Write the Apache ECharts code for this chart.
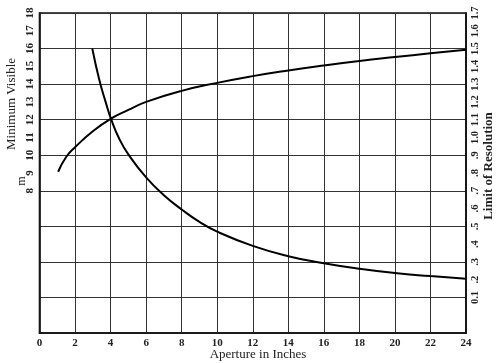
<!DOCTYPE html>
<html>
<head>
<meta charset="utf-8">
<script src="https://cdn.jsdelivr.net/npm/echarts@6/dist/echarts.min.js"></script>
<style>
html,body{margin:0;padding:0;background:#fff;}
#c{width:500px;height:363px;}
</style>
</head>
<body>
<div id="c"></div>
<script>
// Aperture (inches) and minimum visible magnitude (left axis)
const magAperture = [1.05, 1.5, 2, 3, 4, 5, 6, 8, 10, 12, 14, 16, 18, 20, 22, 24];
const magValues   = [9.07, 9.9, 10.45, 11.35, 12.05, 12.55, 13.0, 13.62, 14.07, 14.45, 14.77, 15.05, 15.3, 15.52, 15.73, 15.93];
// Aperture and limit of resolution (right axis, seconds of arc)
const resAperture = [2.97, 3.35, 3.72, 4.04, 4.5, 5, 6, 7, 8, 9, 10, 12, 14, 16, 18, 20, 22, 24];
const resValues   = [1.5, 1.33, 1.2, 1.1, 0.99, 0.905, 0.775, 0.675, 0.595, 0.525, 0.47, 0.39, 0.332, 0.292, 0.261, 0.237, 0.22, 0.205];
// Tick labels
const xTicks = [0, 2, 4, 6, 8, 10, 12, 14, 16, 18, 20, 22, 24];
const leftTicks = [8, 9, 10, 11, 12, 13, 14, 15, 16, 17, 18];
const rightTickValues = [0.1, 0.2, 0.3, 0.4, 0.5, 0.6, 0.7, 0.8, 0.9, 1.0, 1.1, 1.2, 1.3, 1.4, 1.5, 1.6, 1.7];
const rightTickLabels = ['0.1', '.2', '.3', '.4', '.5', '.6', '.7', '.8', '.9', '1.0', '1.1', '1.2', '1.3', '1.4', '1.5', '1.6', '1.7'];

const FONT = 'Liberation Serif';
const chart = echarts.init(document.getElementById('c'), null, {renderer: 'canvas'});

function pairs(xs, ys) { return xs.map((x, i) => [x, ys[i]]); }

chart.setOption({
  animation: false,
  backgroundColor: '#fff',
  grid: {left: 39.5, right: 34, top: 13, bottom: 30, show: true, borderColor: '#111', borderWidth: 1.6, backgroundColor: 'transparent'},
  xAxis: {
    type: 'value', min: 0, max: 24, interval: 2,
    axisLine: {show: true, lineStyle: {color: '#111', width: 1.6}},
    axisTick: {show: false},
    splitLine: {show: true, lineStyle: {color: '#333', width: 1}},
    axisLabel: {
      fontFamily: FONT, fontSize: 11, fontWeight: 'bold', color: '#222', margin: 5,
      formatter: v => xTicks.indexOf(v) >= 0 ? String(v) : ''
    }
  },
  yAxis: [
    {
      type: 'value', min: 0, max: 18, interval: 1, position: 'left',
      axisLine: {show: true, lineStyle: {color: '#111', width: 1.6}},
      axisTick: {show: false},
      splitLine: {show: false},
      axisLabel: {
        fontFamily: FONT, fontSize: 11, fontWeight: 'bold', color: '#222', rotate: 90, margin: 4,
        formatter: v => leftTicks.indexOf(v) >= 0 ? String(v) : ''
      }
    },
    {
      type: 'value', min: -0.1, max: 1.7, interval: 0.1, position: 'right',
      axisLine: {show: true, lineStyle: {color: '#111', width: 1.6}},
      axisTick: {show: false},
      splitLine: {show: false},
      axisLabel: {
        fontFamily: FONT, fontSize: 10.5, fontWeight: 'bold', color: '#222', rotate: 90, margin: 4,
        formatter: v => {
          for (let i = 0; i < rightTickValues.length; i++) {
            if (Math.abs(rightTickValues[i] - v) < 1e-6) return rightTickLabels[i];
          }
          return '';
        }
      }
    },
    {
      type: 'value', min: 0, max: 18, interval: 2, position: 'left',
      axisLine: {show: false}, axisTick: {show: false}, axisLabel: {show: false},
      splitLine: {show: true, lineStyle: {color: '#333', width: 1}}
    }
  ],
  graphic: [
    {type: 'text', x: 12, y: 104, rotation: Math.PI / 2,
      style: {text: 'Minimum Visible', font: '13px "Liberation Serif"', fill: '#222', align: 'center', verticalAlign: 'middle'}},
    {type: 'text', x: 22, y: 181, rotation: Math.PI / 2,
      style: {text: 'm', font: '12px "Liberation Serif"', fill: '#222', align: 'center', verticalAlign: 'middle'}},
    {type: 'text', x: 489, y: 166, rotation: Math.PI / 2,
      style: {text: 'Limit of Resolution', font: 'bold 13px "Liberation Serif"', fill: '#222', align: 'center', verticalAlign: 'middle'}},
    {type: 'text', x: 258, y: 355,
      style: {text: 'Aperture in Inches', font: '13px "Liberation Serif"', fill: '#222', align: 'center', verticalAlign: 'middle'}}
  ],
  series: [
    {
      type: 'line', yAxisIndex: 0, data: pairs(magAperture, magValues), smooth: 0.5,
      showSymbol: false, lineStyle: {color: '#000', width: 2}
    },
    {
      type: 'line', yAxisIndex: 1, data: pairs(resAperture, resValues), smooth: 0.5,
      showSymbol: false, lineStyle: {color: '#000', width: 2}
    }
  ]
});
</script>
</body>
</html>
